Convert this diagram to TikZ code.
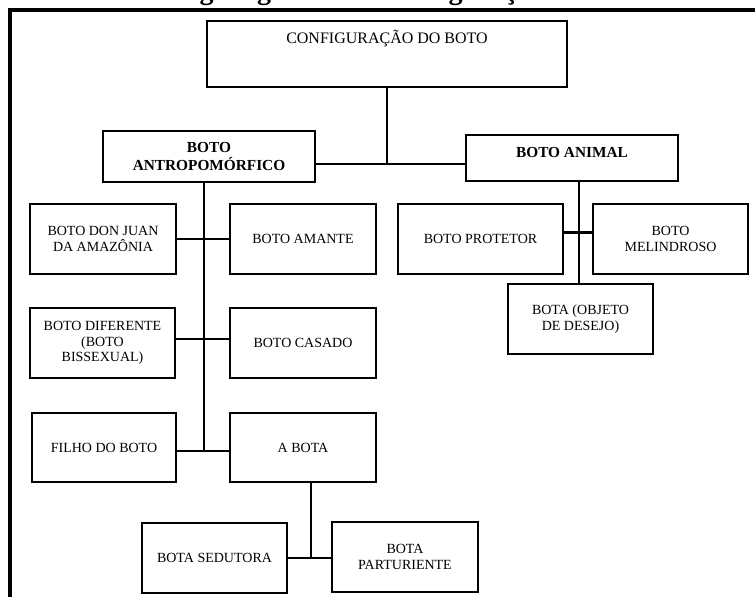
\documentclass[tikz,border=0pt]{standalone}
\usepackage{fontspec}
\setmainfont{Liberation Serif}

\tikzset{
	box/.style={draw, line width=2pt, align=center, inner sep=1pt, font=\fontsize{10.5}{11.5}\selectfont},
	sz/.style 2 args={minimum width=#1*0.75pt, minimum height=#2*0.75pt},
	link/.style={line width=2.2pt},
	head/.style={font=\bfseries\fontsize{11.5}{13.5}\selectfont}
}

\begin{document}
\begin{tikzpicture}[x=0.75pt, y=-0.75pt]
\useasboundingbox (0,0) rectangle (755,596);
\clip (0,0) rectangle (755,596);

\draw[line width=2.6pt] (10,610) -- (10,10) -- (770,10);
\node[anchor=base east, inner sep=0pt, font=\bfseries\fontsize{21}{24}\selectfont] (title) at (658,-0.5) {Organograma das configurações do boto.};

\node[box, minimum width=360*0.75pt, inner ysep=0pt, text height=16.5pt, text depth=33pt, font=\fontsize{12}{14}\selectfont] (config) at (387,54) {CONFIGURAÇÃO DO BOTO};
\node[box, head, sz={212}{51}] (antro) at (209,156.5) {BOTO\\ANTROPOMÓRFICO};
\node[box, head, minimum width=212*0.75pt, inner ysep=0pt, text height=16.5pt, text depth=18pt] (animal) at (572,158) {BOTO ANIMAL};

\node[box, sz={146}{70}] (donjuan) at (103,239) {BOTO DON JUAN\\DA AMAZÔNIA};
\node[box, sz={146}{70}] (amante) at (303,239) {BOTO AMANTE};
\node[box, sz={145}{70}] (diferente) at (102.5,343) {BOTO DIFERENTE\\(BOTO\\BISSEXUAL)};
\node[box, sz={146}{70}] (casado) at (303,343) {BOTO CASADO};
\node[box, sz={144}{69}] (filho) at (104,447.5) {FILHO DO BOTO};
\node[box, sz={146}{69}] (abota) at (303,447.5) {A BOTA};
\node[box, sz={145}{70}] (sedutora) at (214.5,558) {BOTA SEDUTORA};
\node[box, sz={146}{70}] (parturiente) at (405,557) {BOTA\\PARTURIENTE};

\node[box, sz={165}{70}] (protetor) at (480.5,239) {BOTO PROTETOR};
\node[box, sz={155}{70}] (melindroso) at (670.5,239) {BOTO\\MELINDROSO};
\node[box, sz={145}{70}] (objeto) at (580.5,319) {BOTA (OBJETO\\DE DESEJO)};

% connectors
\coordinate (top) at (387,164);
\coordinate (spine) at (204,0);
\coordinate (bspine) at (311,0);
\coordinate (rspine) at (579,0);

\draw[link] (config.south) -- (top);
\draw[link] (antro.east |- top) -- (animal.west |- top);

\draw[link] (antro.south -| spine) -- ([yshift=-2.6pt]filho.east -| spine);
\draw[link] (donjuan.east) -- (amante.west);
\draw[link] ([yshift=3pt]diferente.east) -- ([yshift=3pt]casado.west);
\draw[link] ([yshift=-2.6pt]filho.east) -- ([yshift=-2.6pt]abota.west);

\draw[link] (abota.south -| bspine) -- (sedutora.east -| bspine);
\draw[link] (sedutora.east) -- (sedutora.east -| parturiente.west);

\draw[link] (animal.south -| rspine) -- (objeto.north -| rspine);
\draw[link] ([yshift=5pt]protetor.east) -- ([yshift=5pt]melindroso.west);

\end{tikzpicture}
\end{document}
